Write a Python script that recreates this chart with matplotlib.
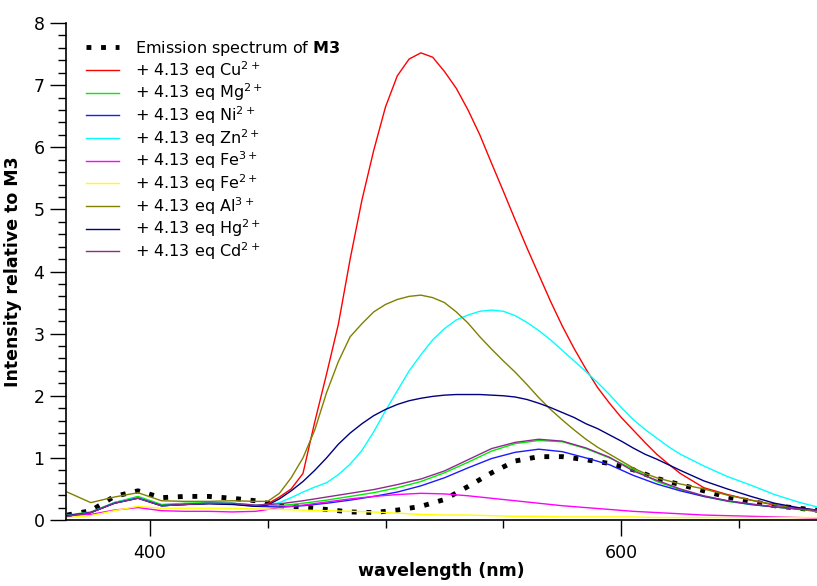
import matplotlib
matplotlib.use('Agg')
import matplotlib.pyplot as plt
from matplotlib.ticker import MultipleLocator

plt.rcParams['font.family'] = 'DejaVu Sans'
plt.rcParams['mathtext.default'] = 'regular'

# wavelength grids (nm): coarse one for the flat spectra, finer one in the
# 450-625 nm band for the four strongly peaked spectra
wl = [365, 375, 385, 395, 405, 415, 425, 435, 445, 455, 465, 475, 485, 495, 505,
      515, 525, 535, 545, 555, 565, 575, 585, 595, 605, 615, 625, 635, 645, 655,
      665, 675, 685]
wl2 = [365, 375, 385, 395, 405, 415, 425, 435, 445,
       450, 455, 460, 465, 470, 475, 480, 485, 490, 495, 500, 505, 510, 515, 520,
       525, 530, 535, 540, 545, 550, 555, 560, 565, 570, 575, 580, 585, 590, 595,
       600, 605, 610, 615, 620, 625,
       635, 645, 655, 665, 675, 685]

# intensity relative to M3
m3 = [0.08, 0.15, 0.38, 0.47, 0.36, 0.38, 0.38, 0.35, 0.31, 0.23, 0.21, 0.17, 0.13,
      0.12, 0.16, 0.22, 0.33, 0.54, 0.76, 0.95, 1.02, 1.02, 0.97, 0.91, 0.81, 0.67,
      0.57, 0.47, 0.37, 0.30, 0.23, 0.19, 0.15]
mg = [0.08, 0.13, 0.28, 0.38, 0.25, 0.27, 0.28, 0.27, 0.23, 0.23, 0.27, 0.32, 0.38,
      0.44, 0.52, 0.62, 0.76, 0.93, 1.11, 1.23, 1.28, 1.26, 1.15, 1.00, 0.82, 0.62,
      0.49, 0.38, 0.30, 0.25, 0.21, 0.17, 0.15]
ni = [0.07, 0.12, 0.27, 0.36, 0.23, 0.25, 0.27, 0.26, 0.22, 0.21, 0.23, 0.27, 0.32,
      0.38, 0.45, 0.55, 0.68, 0.84, 0.99, 1.09, 1.14, 1.10, 1.00, 0.89, 0.72, 0.58,
      0.47, 0.38, 0.31, 0.25, 0.21, 0.18, 0.15]
fe3 = [0.07, 0.09, 0.16, 0.20, 0.15, 0.14, 0.14, 0.13, 0.14, 0.20, 0.24, 0.29, 0.34,
       0.38, 0.41, 0.43, 0.42, 0.39, 0.35, 0.31, 0.27, 0.23, 0.20, 0.17, 0.14, 0.12,
       0.10, 0.08, 0.07, 0.06, 0.05, 0.04, 0.03]
fe2 = [0.04, 0.07, 0.15, 0.22, 0.19, 0.19, 0.19, 0.19, 0.18, 0.17, 0.16, 0.15, 0.14,
       0.13, 0.11, 0.09, 0.08, 0.08, 0.07, 0.06, 0.06, 0.05, 0.05, 0.05, 0.05, 0.04,
       0.04, 0.04, 0.04, 0.04, 0.04, 0.04, 0.04]
cd = [0.06, 0.12, 0.27, 0.35, 0.23, 0.25, 0.27, 0.27, 0.24, 0.26, 0.31, 0.37, 0.43,
      0.49, 0.57, 0.66, 0.79, 0.97, 1.15, 1.25, 1.30, 1.27, 1.16, 1.01, 0.79, 0.64,
      0.50, 0.39, 0.31, 0.26, 0.21, 0.18, 0.15]

# on wl2
cu = [0.07, 0.12, 0.28, 0.36, 0.23, 0.25, 0.27, 0.26, 0.23,
      0.26, 0.37, 0.50, 0.75, 1.58, 2.35, 3.15, 4.20, 5.15, 5.95, 6.65, 7.15, 7.42,
      7.52, 7.45, 7.22, 6.95, 6.60, 6.20, 5.74, 5.29, 4.83, 4.38, 3.95, 3.52, 3.12,
      2.76, 2.43, 2.13, 1.88, 1.65, 1.45, 1.25, 1.06, 0.90, 0.75,
      0.52, 0.41, 0.32, 0.24, 0.19, 0.15]
al = [0.45, 0.28, 0.37, 0.44, 0.31, 0.30, 0.30, 0.31, 0.30,
      0.30, 0.43, 0.68, 1.00, 1.45, 2.05, 2.55, 2.95, 3.16, 3.35, 3.47, 3.55, 3.60,
      3.62, 3.58, 3.50, 3.35, 3.17, 2.95, 2.75, 2.56, 2.38, 2.18, 1.97, 1.78, 1.61,
      1.45, 1.30, 1.17, 1.06, 0.95, 0.84, 0.75, 0.68, 0.63, 0.58,
      0.50, 0.40, 0.32, 0.25, 0.18, 0.12]
zn = [0.07, 0.12, 0.28, 0.36, 0.23, 0.25, 0.27, 0.27, 0.24,
      0.24, 0.28, 0.36, 0.45, 0.53, 0.60, 0.73, 0.90, 1.12, 1.42, 1.76, 2.08, 2.40,
      2.66, 2.90, 3.08, 3.22, 3.30, 3.36, 3.38, 3.36, 3.29, 3.18, 3.05, 2.90, 2.73,
      2.56, 2.39, 2.21, 2.02, 1.81, 1.62, 1.46, 1.32, 1.18, 1.06,
      0.87, 0.70, 0.56, 0.41, 0.29, 0.19]
hg = [0.07, 0.12, 0.27, 0.35, 0.23, 0.25, 0.26, 0.25, 0.22,
      0.24, 0.34, 0.47, 0.62, 0.80, 1.00, 1.22, 1.40, 1.55, 1.68, 1.78, 1.86, 1.92,
      1.96, 1.99, 2.01, 2.02, 2.02, 2.02, 2.01, 2.00, 1.98, 1.94, 1.88, 1.81, 1.73,
      1.65, 1.55, 1.47, 1.37, 1.27, 1.16, 1.06, 0.98, 0.89, 0.80,
      0.63, 0.50, 0.38, 0.27, 0.20, 0.15]

ions = ['Cu', 'Mg', 'Ni', 'Zn', 'Fe', 'Fe', 'Al', 'Hg', 'Cd']
charges = ['2+', '2+', '2+', '2+', '3+', '2+', '3+', '2+', '2+']
series = [cu, mg, ni, zn, fe3, fe2, al, hg, cd]
grids = [wl2, wl, wl, wl2, wl, wl, wl2, wl2, wl]
colors = ['#ff0000', '#00ee00', '#1a1aff', '#00ffff', '#ff00ff', '#ffff00',
          '#808000', '#000080', '#8e2a8e']

fig = plt.figure(figsize=(8.17, 5.86), dpi=100)
ax = fig.add_axes([0.0808, 0.1126, 0.9192, 0.8481])

ax.plot(wl, m3, color='black', lw=3.5, linestyle=(0, (1, 2)),
        label=r'Emission spectrum of $\mathbf{M3}$')
for x, y, ion, ch, c in zip(grids, series, ions, charges, colors):
    ax.plot(x, y, color=c, lw=1.0, label='+ 4.13 eq $' + ion + '^{' + ch + '}$')

ax.set_xlim(364.5, 683)
ax.set_ylim(0, 8)
ax.xaxis.set_major_locator(MultipleLocator(200))
ax.xaxis.set_minor_locator(MultipleLocator(50))
ax.yaxis.set_major_locator(MultipleLocator(1))
ax.yaxis.set_minor_locator(MultipleLocator(0.2))
ax.tick_params(which='major', length=11.5, width=1.0, labelsize=12.5, pad=4)
ax.tick_params(which='minor', length=6, width=1.0)
ax.tick_params(axis='x', which='major', pad=6)

ax.spines['top'].set_visible(False)
ax.spines['right'].set_visible(False)
ax.spines['left'].set_linewidth(1.2)
ax.spines['bottom'].set_linewidth(1.2)

ax.set_xlabel('wavelength (nm)', fontsize=12.5, fontweight='bold', labelpad=0)
ax.set_ylabel('Intensity relative to M3', fontsize=12.5, fontweight='bold', labelpad=8)

ax.legend(loc='upper left', bbox_to_anchor=(0.026, 0.968), frameon=False,
          fontsize=11.5, handlelength=2.1, handletextpad=1.0, labelspacing=0.06,
          borderpad=0, borderaxespad=0)

fig.savefig('out.png', dpi=100)
